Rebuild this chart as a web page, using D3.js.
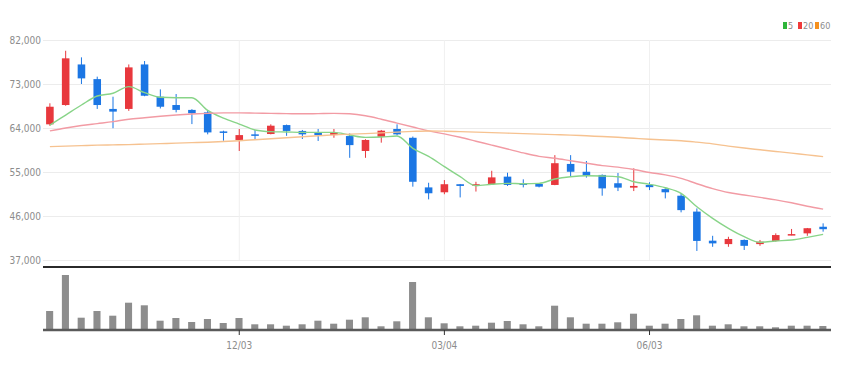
<!DOCTYPE html>
<html>
<head>
<meta charset="utf-8">
<script src="https://cdn.jsdelivr.net/npm/d3@7"></script>
<style>
  body { margin: 0; background: #fff; }
  text { font-family: "Liberation Sans Narrow", "DejaVu Sans Condensed", sans-serif; fill: #8c8c8c; }
</style>
</head>
<body>
<svg width="848" height="371"></svg>
<script>
// weekly candles
var dates = [
  "2018-09-10","2018-09-17","2018-09-24","2018-10-01","2018-10-08","2018-10-15","2018-10-22","2018-10-29",
  "2018-11-05","2018-11-12","2018-11-19","2018-11-26","2018-12-03","2018-12-10","2018-12-17","2018-12-24",
  "2018-12-31","2019-01-07","2019-01-14","2019-01-21","2019-01-28","2019-02-04","2019-02-11","2019-02-18",
  "2019-02-25","2019-03-04","2019-03-11","2019-03-18","2019-03-25","2019-04-01","2019-04-08","2019-04-15",
  "2019-04-22","2019-04-29","2019-05-06","2019-05-13","2019-05-20","2019-05-27","2019-06-03","2019-06-10",
  "2019-06-17","2019-06-24","2019-07-01","2019-07-08","2019-07-15","2019-07-22","2019-07-29","2019-08-05",
  "2019-08-12","2019-08-19"
];
var opens  = [64750,68700,77000,74000,67900,67900,77000,70400,68700,67700,67200,63300,61550,62700,62770,64600,
              63400,63100,62550,62350,59300,62200,63800,62000,51850,50850,52500,52200,52550,54050,52700,52550,
              52350,56650,55050,54400,52700,51800,52350,51500,50150,46900,40950,40250,41100,40250,40900,42050,
              42450,43800];
var highs  = [69050,79800,78450,74500,70400,77000,77700,71900,70950,67850,67500,63450,63800,63600,64750,64700,
              63600,63800,63800,62900,61700,63600,64750,62250,52800,53350,52550,53000,55250,54850,53500,52700,
              58450,58450,57250,54500,54800,55750,52900,51700,50650,47550,41950,41750,41200,41100,42450,43350,
              43550,44500];
var lows   = [64450,68550,73000,67900,63950,67500,70500,68000,67200,64800,62700,61400,59300,61750,62700,62400,
              61750,61350,62000,57900,57900,61000,62500,52000,49400,50450,49800,51000,52400,52150,51850,51850,
              52300,54050,53850,50150,51100,51100,51300,49600,46750,38850,39700,39700,39050,39900,40750,42050,
              41950,42800];
var closes = [68350,78250,74150,68700,67350,76400,70600,68350,67700,67000,63100,63100,62550,62400,64470,63400,
              62700,62550,63050,60500,61550,63450,62700,53000,50650,52500,52150,52500,53900,52350,52350,52000,
              56800,55050,54250,51650,51800,52150,51900,50850,47200,40900,40400,41300,39900,40750,42100,42300,
              43500,43300];
var volumes = [380000,1100000,246000,380000,286000,546000,494000,186000,240000,160000,220000,140000,240000,
               114000,114000,86000,114000,186000,126000,206000,254000,74000,174000,960000,254000,134000,74000,
               86000,146000,180000,114000,74000,486000,254000,126000,126000,154000,326000,86000,126000,220000,
               294000,86000,114000,74000,74000,54000,86000,86000,80000];

// moving averages as shown
var ma5  = [64600,66650,68700,70540,71100,72460,71230,70290,70200,70200,67600,66000,64800,63600,63250,63180,
            63100,63100,63100,62560,62080,62150,62350,59840,58200,56090,54040,52200,52480,52680,52600,52680,
            53560,54040,54240,54180,54040,53010,52480,51780,50640,47900,45530,43480,41770,40620,40890,41090,
            41640,42250];
var ma20 = [63400,64000,64500,64900,65300,65800,66100,66400,66650,66850,67000,67100,67100,67050,67000,66950,
            66900,66950,67000,66900,66500,65800,65000,64200,63400,62800,62100,61300,60500,59700,58900,58200,
            57800,57300,56800,56300,56000,55500,54900,54400,53700,52600,51600,50800,50300,49800,49300,48700,
            48000,47400];
var ma60 = [60200,60300,60400,60500,60550,60600,60700,60800,60900,61000,61100,61250,61400,61600,61800,62000,
            62200,62400,62600,62750,62850,63000,63150,63300,63400,63350,63250,63150,63050,62950,62850,62750,
            62650,62550,62400,62250,62100,61900,61700,61550,61400,61100,60750,60300,59900,59550,59200,58850,
            58500,58150];

var yTicks    = [37000,46000,55000,64000,73000,82000];
var xTicks    = ["2018-12-03","2019-03-04","2019-06-03"];
var maLabels  = ["5","20","60"];
var maColors  = ["#88d488","#f29ba4","#f6c290"];
var legendColors = ["#2fb53a","#ef3b3b","#f5901e"];

var UP = "#e8383d", DOWN = "#1b76e4";

var svg = d3.select("svg");

var x = d3.scaleBand().domain(dates).range([42, 831]).paddingInner(0.52).paddingOuter(0.26);
var y = d3.scaleLinear().domain([37000, 82000]).range([260, 40]);
var yv = d3.scaleLinear().domain([0, 1100000]).range([330, 275]);
var fmtDate = function(s){ return d3.timeFormat("%m/%d")(d3.timeParse("%Y-%m-%d")(s)); };
var cx = function(i){ return x(dates[i]) + x.bandwidth() / 2; };

// grid
svg.append("g")
  .attr("transform", "translate(43,0)")
  .call(d3.axisLeft(y).tickValues(yTicks).tickSize(-788).tickFormat(""))
  .call(function(g){ g.select(".domain").remove(); })
  .selectAll("line").attr("stroke", "#ececec");

svg.append("g")
  .attr("transform", "translate(0,260)")
  .call(d3.axisBottom(x).tickValues(xTicks).tickSize(-220).tickFormat(""))
  .call(function(g){ g.select(".domain").remove(); })
  .selectAll("line").attr("stroke", "#f0f0f0");

// y labels
svg.append("g")
  .attr("transform", "translate(42,0)")
  .call(d3.axisLeft(y).tickValues(yTicks).tickSize(0).tickPadding(1).tickFormat(d3.format(",")))
  .call(function(g){ g.select(".domain").remove(); })
  .selectAll("text").style("font-size", "10px").attr("fill", "#8c8c8c");

// candles
var idx = d3.range(dates.length);
svg.append("g").selectAll("line")
  .data(idx).enter().append("line")
    .attr("x1", function(i){ return cx(i); })
    .attr("x2", function(i){ return cx(i); })
    .attr("y1", function(i){ return y(highs[i]); })
    .attr("y2", function(i){ return y(lows[i]); })
    .attr("stroke", function(i){ return closes[i] >= opens[i] ? UP : DOWN; })
    .attr("stroke-width", 1);

svg.append("g").selectAll("rect")
  .data(idx).enter().append("rect")
    .attr("x", function(i){ return x(dates[i]); })
    .attr("width", x.bandwidth())
    .attr("y", function(i){ return y(Math.max(opens[i], closes[i])); })
    .attr("height", function(i){ return Math.max(1.5, Math.abs(y(opens[i]) - y(closes[i]))); })
    .attr("fill", function(i){ return closes[i] >= opens[i] ? UP : DOWN; });

// moving average lines
[ma5, ma20, ma60].forEach(function(ma, k){
  svg.append("path")
    .datum(ma)
    .attr("fill", "none")
    .attr("stroke", maColors[k])
    .attr("stroke-width", 1.4)
    .attr("d", d3.line().curve(d3.curveMonotoneX)
      .x(function(d, i){ return cx(i); }).y(function(d){ return y(d); }));
});

// divider
svg.append("line")
  .attr("x1", 43).attr("x2", 831).attr("y1", 267).attr("y2", 267)
  .attr("stroke", "#2a2a2a").attr("stroke-width", 2);

// volume
svg.append("g").selectAll("rect")
  .data(idx).enter().append("rect")
    .attr("x", function(i){ return x(dates[i]); })
    .attr("width", x.bandwidth() - 0.5)
    .attr("y", function(i){ return yv(volumes[i]); })
    .attr("height", function(i){ return yv(0) - yv(volumes[i]); })
    .attr("fill", "#8d8d8d");

var xa = svg.append("g")
  .attr("transform", "translate(0,330)")
  .call(d3.axisBottom(x).tickValues(xTicks).tickSize(5).tickSizeOuter(0).tickPadding(7).tickFormat(fmtDate));
xa.select(".domain").attr("stroke", "#5a5a5a").attr("stroke-width", 2.5).attr("d", "M43,0H831");
xa.selectAll("line").attr("stroke", "#333");
xa.selectAll("text").style("font-size", "10px").attr("fill", "#8c8c8c");

// legend
var lx = [783, 798, 815];
maLabels.forEach(function(lab, k){
  svg.append("rect")
    .attr("x", lx[k]).attr("y", 22).attr("width", 4).attr("height", 7)
    .attr("fill", legendColors[k]);
  svg.append("text")
    .attr("x", lx[k] + 5).attr("y", 29)
    .text(lab)
    .style("font-size", "9px");
});
</script>
</body>
</html>
